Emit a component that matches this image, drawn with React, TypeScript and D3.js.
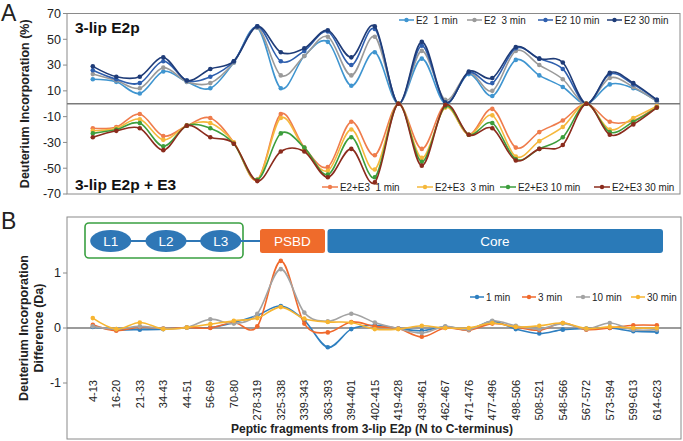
import React from "react";
import * as d3 from "d3";

const fragments = ["4-13","16-20","21-33","34-43","44-51","56-69","70-80","278-319","325-338","339-343","363-393","394-401","402-415","419-428","439-461","462-467","471-476","477-496","498-506","508-521","548-566","567-572","573-594","599-613","614-623"];

const e2_1min = [19,17,8,25,17,12,32,59,12,37,48,14,40,0,35,0,23,6,34,22,13,0,15,12,2];
const e2_3min = [23,18,12,28,17,16,32,59,22,37,52,22,52,0,41,3,24,10,41,30,19,0,20,13,2];
const e2_10min = [26,19,16,33,18,21,33,60,33,41,56,30,58,0,45,1,24,16,43,35,27,0,23,15,3];
const e2_30min = [29,21,21,36,18,27,33,60,40,43,57,36,60,0,48,1,25,20,44,35,32,0,24,16,3];

const e3_1min = [-19,-18,-8,-25,-17,-11,-30,-59,-8,-34,-49,-14,-40,0,-35,-1,-24,-4,-34,-22,-13,0,-14,-13,-2];
const e3_3min = [-21,-19,-12,-28,-17,-15,-30,-59,-11,-35,-52,-20,-51,0,-42,-3,-24,-9,-41,-29,-18,0,-20,-11,-2];
const e3_10min = [-23,-20,-15,-33,-17,-19,-31,-59,-23,-34,-55,-26,-57,0,-45,-2,-24,-15,-43,-35,-26,0,-22,-14,-3];
const e3_30min = [-26,-21,-19,-36,-17,-26,-31,-60,-37,-37,-57,-35,-61,0,-48,-1,-24,-19,-44,-35,-32,0,-24,-16,-3];

const d_1min = [0.02,-0.03,-0.03,-0.02,0.01,0.01,0.10,0.23,0.40,0.14,-0.35,-0.02,0.05,-0.01,-0.05,0.02,-0.03,0.12,-0.02,-0.10,-0.03,-0.01,0.00,-0.06,-0.07];
const d_3min = [0.06,-0.05,0.02,-0.01,0.01,0.00,0.10,0.03,1.22,0.08,-0.08,0.11,0.03,-0.01,-0.16,0.00,-0.04,0.08,0.02,-0.04,0.09,-0.03,0.00,0.05,0.05];
const d_10min = [0.03,-0.02,0.03,-0.01,0.01,0.16,0.08,0.26,1.07,0.28,0.12,0.26,0.10,-0.01,-0.09,0.03,-0.03,0.13,0.04,-0.02,0.08,-0.02,0.09,-0.03,-0.03];
const d_30min = [0.18,-0.02,0.10,-0.02,0.01,0.07,0.13,0.18,0.38,0.17,0.11,0.10,-0.02,-0.02,0.04,0.00,0.00,0.09,0.02,0.04,0.09,-0.01,0.02,0.00,0.00];

const ticksA = [70, 50, 30, 10, -10, -30, -50, -70];
const ticksB = [1, 0, -1];

const seriesTop = [
  { name: "E2  1 min", values: e2_1min, color: "#3f95d0" },
  { name: "E2  3 min", values: e2_3min, color: "#9a9a9a" },
  { name: "E2 10 min", values: e2_10min, color: "#2f5fae" },
  { name: "E2 30 min", values: e2_30min, color: "#1f3c78" },
];
const seriesBottom = [
  { name: "E2+E3  1 min", values: e3_1min, color: "#ef7c4c" },
  { name: "E2+E3  3 min", values: e3_3min, color: "#f5b83c" },
  { name: "E2+E3 10 min", values: e3_10min, color: "#3c9e3c" },
  { name: "E2+E3 30 min", values: e3_30min, color: "#8b2c1d" },
];
const seriesB = [
  { name: "1 min", values: d_1min, color: "#2e7fc0" },
  { name: "3 min", values: d_3min, color: "#f0692c" },
  { name: "10 min", values: d_10min, color: "#a3a3a3" },
  { name: "30 min", values: d_30min, color: "#f7b531" },
];

const FONT = "'Liberation Sans', Arial, sans-serif";

type S = { name: string; values: number[]; color: string };

function Series({ s, x, y }: { s: S; x: d3.ScalePoint<string>; y: d3.ScaleLinear<number, number> }) {
  const line = d3
    .line<number>()
    .x((_, i) => x(fragments[i]) as number)
    .y((d) => y(d))
    .curve(d3.curveCardinal.tension(0));
  return (
    <g>
      <path d={line(s.values) || ""} fill="none" stroke={s.color} strokeWidth={1.6} />
      {s.values.map((v, i) => (
        <circle key={i} cx={x(fragments[i]) as number} cy={y(v)} r={2.3} fill={s.color} />
      ))}
    </g>
  );
}

function Legend({ items, starts, y, lineLen, fontSize }: { items: S[]; starts: number[]; y: number; lineLen: number; fontSize: number }) {
  return (
    <g>
      {items.map((s, i) => (
        <g key={i}>
          <line x1={starts[i]} x2={starts[i] + lineLen} y1={y} y2={y} stroke={s.color} strokeWidth={1.5} />
          <circle cx={starts[i] + lineLen / 2} cy={y} r={2.2} fill={s.color} />
          <text
            transform={`translate(${starts[i] + lineLen + 2},${y + fontSize * 0.36}) scale(0.86,1)`}
            fontSize={fontSize}
            fontFamily={FONT}
            fill="#222"
            style={{ whiteSpace: "pre" }}
          >
            {s.name}
          </text>
        </g>
      ))}
    </g>
  );
}

export default function App() {
  const W = 683, H = 441;
  const left = 67, rightA = 680, rightB = 681;
  const x = d3.scalePoint<string>().domain(fragments).range([92.8, 656.8]);
  const yA = d3.scaleLinear().domain([-70, 70]).range([194, 13.5]);
  const yB = d3.scaleLinear().domain([-1, 1]).range([383, 273]);
  const topA = 13.5, botA = 194, topB = 217, botB = 439;

  return (
    <svg width={W} height={H} style={{ position: "absolute", left: 0, top: 0, background: "#fff" }} fontFamily={FONT}>
      <rect x={0} y={0} width={W} height={H} fill="#fff" />
      <text x={1} y={21} fontSize={23} fill="#222">A</text>
      <text x={1} y={229} fontSize={23} fill="#222">B</text>

      {/* Panel A */}
      <rect x={left} y={topA} width={rightA - left} height={botA - topA} fill="none" stroke="#8a8a8a" strokeWidth={1} />
      <line x1={left} x2={rightA} y1={yA(0)} y2={yA(0)} stroke="#7a7a7a" strokeWidth={1.3} />
      {ticksA.map((t) => (
        <g key={t}>
          <line x1={left - 4} x2={left} y1={yA(t)} y2={yA(t)} stroke="#8a8a8a" />
          <text x={left - 6} y={yA(t)} dy="0.35em" textAnchor="end" fontSize={12.5} fill="#222">{t}</text>
        </g>
      ))}
      <text transform={`translate(29,${(topA + botA) / 2}) rotate(-90)`} textAnchor="middle" fontSize={12.5} fontWeight="bold" fill="#222">
        Deuterium Incorporation (%)
      </text>
      <text x={75} y={33} fontSize={15.5} fontWeight="bold" fill="#111">3-lip E2p</text>
      <text x={75} y={190} fontSize={15.5} fontWeight="bold" fill="#111">3-lip E2p + E3</text>
      {seriesTop.map((s, i) => <Series key={i} s={s} x={x} y={yA} />)}
      {seriesBottom.map((s, i) => <Series key={i} s={s} x={x} y={yA} />)}
      <Legend items={seriesTop} starts={[399, 467, 538, 607]} y={20} lineLen={15} fontSize={11.5} />
      <Legend items={seriesBottom} starts={[322, 417, 500, 594]} y={187} lineLen={16} fontSize={11.5} />

      {/* Panel B */}
      <rect x={left} y={topB} width={rightB - left} height={botB - topB} fill="none" stroke="#8a8a8a" strokeWidth={1} />
      <line x1={left} x2={rightB} y1={yB(0)} y2={yB(0)} stroke="#7a7a7a" strokeWidth={1.3} />
      {ticksB.map((t) => (
        <g key={t}>
          <line x1={left - 4} x2={left} y1={yB(t)} y2={yB(t)} stroke="#8a8a8a" />
          <text x={left - 6} y={yB(t)} dy="0.35em" textAnchor="end" fontSize={12.5} fill="#222">{t}</text>
        </g>
      ))}
      <text transform={`translate(28,328) rotate(-90)`} textAnchor="middle" fontSize={12.5} fontWeight="bold" fill="#222">
        Deuterium Incorporation
      </text>
      <text transform={`translate(43,328) rotate(-90)`} textAnchor="middle" fontSize={12.5} fontWeight="bold" fill="#222">
        Difference (Da)
      </text>

      {/* Domain diagram */}
      <rect x={85} y={223} width={158} height={35} rx={4} fill="#fff" stroke="#3aa041" strokeWidth={1.6} />
      <line x1={110} x2={262} y1={241} y2={241} stroke="#2f77b6" strokeWidth={2} />
      {[["L1", 110.7], ["L2", 166], ["L3", 220.7]].map(([t, cx]) => (
        <g key={t as string}>
          <ellipse cx={cx as number} cy={241} rx={20.5} ry={11} fill="#2f77b6" />
          <text x={cx as number} y={241} dy="0.36em" textAnchor="middle" fontSize={13.5} fill="#fff">{t}</text>
        </g>
      ))}
      <rect x={260} y={229} width={65} height={24} rx={2.5} fill="#ef6b2b" />
      <text x={292.5} y={241} dy="0.36em" textAnchor="middle" fontSize={13.5} fill="#fff">PSBD</text>
      <rect x={327.5} y={229} width={335.5} height={24} rx={3} fill="#2a7ab8" />
      <text x={495} y={241} dy="0.36em" textAnchor="middle" fontSize={13.5} fill="#fff">Core</text>

      {seriesB.map((s, i) => <Series key={i} s={s} x={x} y={yB} />)}
      <Legend items={seriesB} starts={[470, 522, 576, 631]} y={297} lineLen={14} fontSize={11.5} />

      {fragments.map((f) => (
        <text key={f} transform={`translate(${x(f)},380) rotate(-90)`} dy="0.35em" textAnchor="end" fontSize={11} fill="#222">{f}</text>
      ))}
      <text x={372} y={433} textAnchor="middle" fontSize={12} fontWeight="bold" fill="#222">
        Peptic fragments from 3-lip E2p (N to C-terminus)
      </text>
    </svg>
  );
}
